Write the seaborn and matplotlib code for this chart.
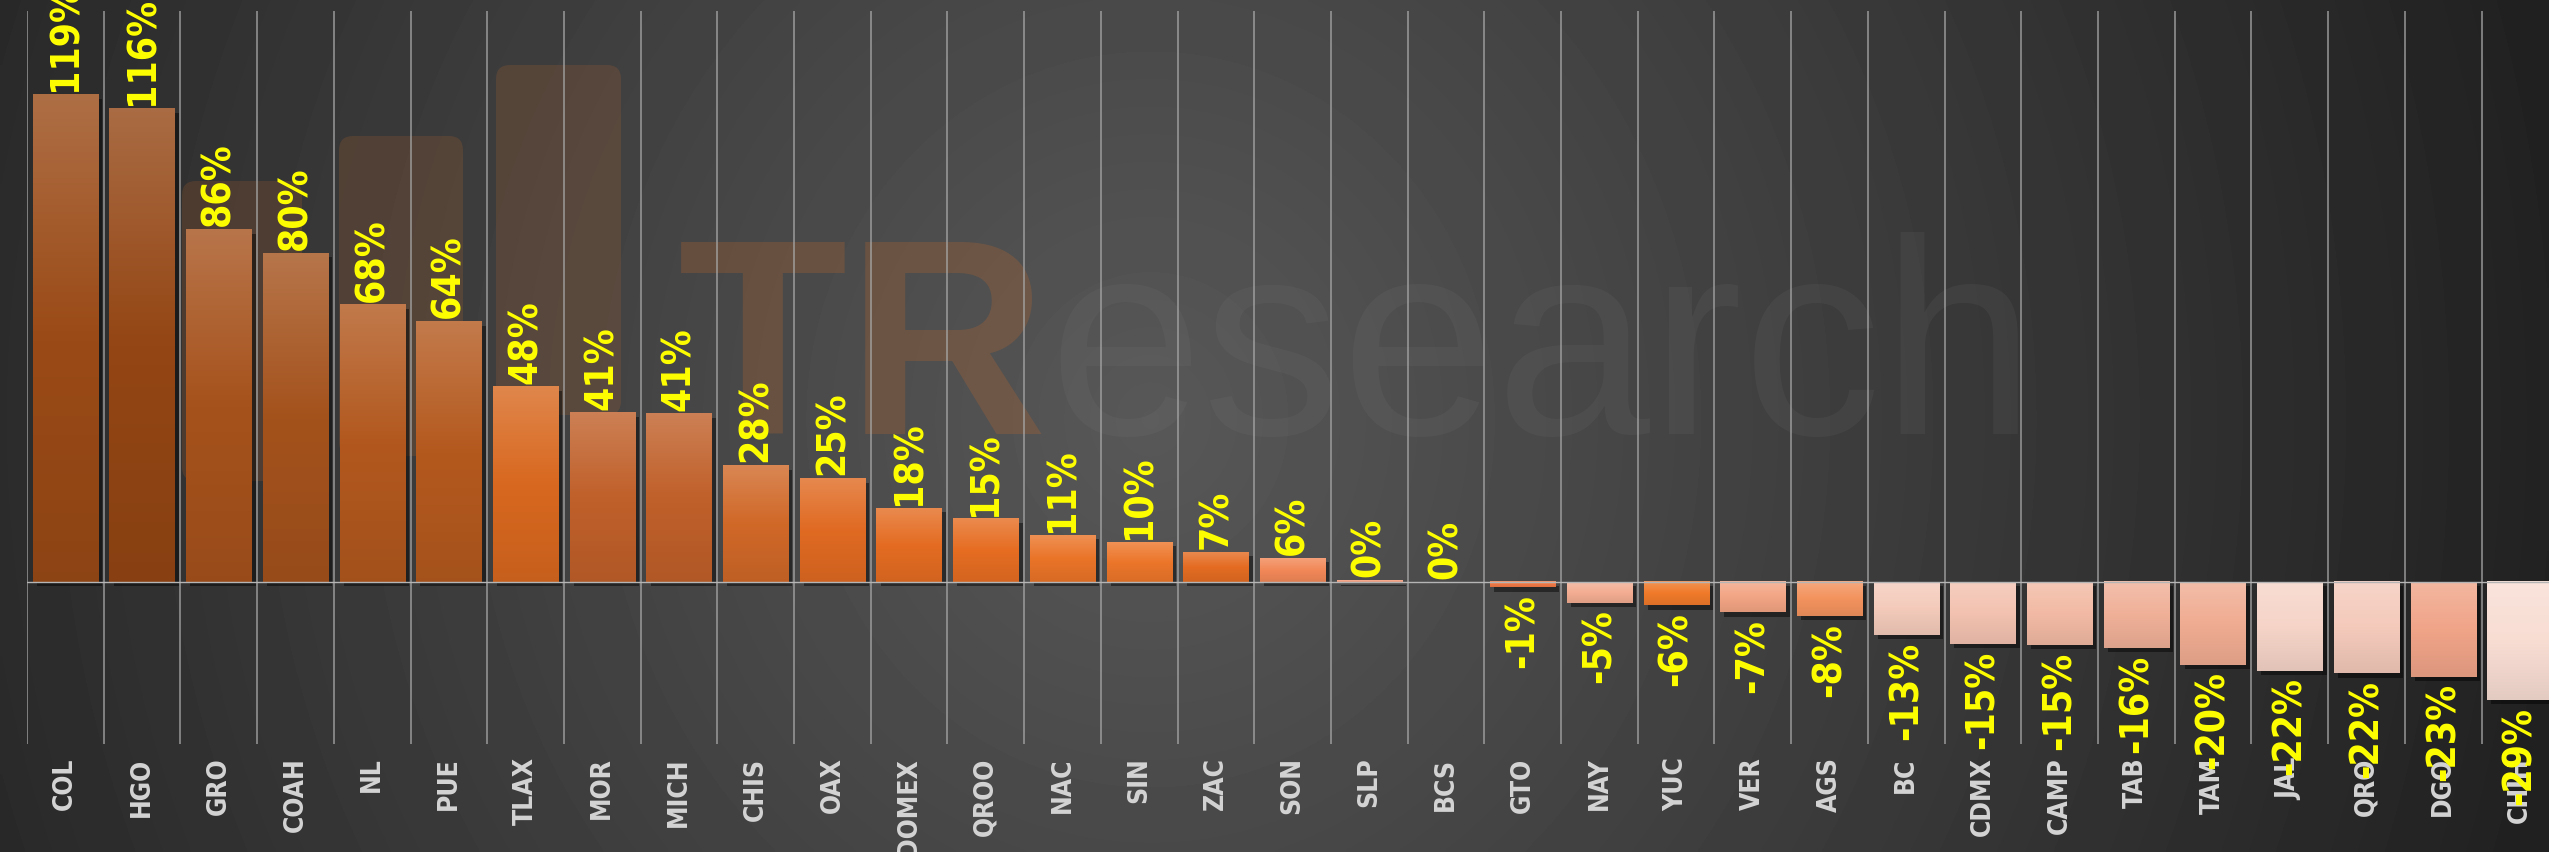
import numpy as np
import matplotlib
matplotlib.use("Agg")
import matplotlib.pyplot as plt
import matplotlib.patheffects as pe
from matplotlib import font_manager as fm
from matplotlib.colors import to_rgb
from matplotlib.patches import FancyBboxPatch
import seaborn as sns

# data (percent change by state)
states = ['COL', 'HGO', 'GRO', 'COAH', 'NL', 'PUE', 'TLAX', 'MOR', 'MICH', 'CHIS', 'OAX',
          'EDOMEX', 'QROO', 'NAC', 'SIN', 'ZAC', 'SON', 'SLP', 'BCS', 'GTO', 'NAY', 'YUC',
          'VER', 'AGS', 'BC', 'CDMX', 'CAMP', 'TAB', 'TAM', 'JAL', 'QRO', 'DGO', 'CHIH']
growth = [118.9, 115.5, 86.0, 80.2, 67.6, 63.6, 47.6, 41.3, 41.0, 28.4, 25.3,
          18.0, 15.4, 11.4, 9.7, 7.3, 5.8, 0.4, 0.0, -1.3, -5.0, -5.7,
          -7.4, -8.3, -12.9, -15.1, -15.3, -16.1, -20.2, -21.6, -22.3, -23.1, -28.8]

# bar fill colours
bar_colors = ['#9a4a16', '#944614', '#a6521c', '#a4521c', '#b2581e', '#b4591e', '#d8681f',
              '#c0602a', '#c0602a', '#d06828', '#e06a22', '#e46c22', '#e66d22', '#ea7428',
              '#ec762a', '#e46c22', '#f28858', '#f5a080', '#f5a080', '#f07844', '#f3ad92',
              '#f07a2a', '#f3a584', '#f3935e', '#f4cbbb', '#f3c2b0', '#f2baa4', '#f0b098',
              '#f0ac92', '#f6d4c8', '#f4cabb', '#f0a488', '#f8ddd3']

sns.set_theme(style="dark")
plt.rcParams['font.family'] = ['DejaVu Sans']

# look for a narrow / condensed bold face, else shrink DejaVu
narrow = None
for f in fm.fontManager.ttflist:
    nm = f.name.lower()
    is_narrow = 'narrow' in nm or 'condensed' in nm or f.stretch in ('condensed', 'semi-condensed', 'extra-condensed')
    if is_narrow and str(f.weight).lower() in ('bold', '700', 'heavy', '800'):
        narrow = f
        break
if narrow is not None:
    val_font = fm.FontProperties(fname=narrow.fname, size=28)
    tick_font = fm.FontProperties(fname=narrow.fname, size=19)
else:
    val_font = fm.FontProperties(family='DejaVu Sans', weight='bold', size=19)
    tick_font = fm.FontProperties(family='DejaVu Sans', weight='bold', size=16)

W, H = 2549, 853
fig = plt.figure(figsize=(W / 100, H / 100), dpi=100)

# dark radial background
bg = fig.add_axes([0, 0, 1, 1], zorder=-10)
yy, xx = np.mgrid[0:H:4, 0:W:4]
d = np.sqrt(((xx - 1150) / 1400) ** 2 + ((yy - 420) / 1500) ** 2)
shade = np.clip(0x58 - (0x58 - 0x22) * d, 0x20, 0x60) / 255
bg.imshow(shade, cmap='gray', vmin=0, vmax=1, extent=[0, W, H, 0],
          aspect='auto', interpolation='bilinear')

# faint logo watermark
for (x, y, w, h) in [(182, 182, 120, 300), (339, 137, 124, 320), (496, 66, 125, 350)]:
    bg.add_patch(FancyBboxPatch((x, y), w, h, boxstyle="round,pad=0,rounding_size=14",
                                facecolor='#c8692a', edgecolor='none', alpha=0.18))
tr = bg.text(678, 434, 'TR', fontsize=200, fontweight='bold', family='Liberation Sans',
             color='#c8692a', alpha=0.25, va='baseline')
fig.canvas.draw()
ext = tr.get_window_extent()
bg.text(ext.x1, 434, 'esearch', fontsize=200, family='Liberation Sans',
        color='#8a8a8a', alpha=0.10, va='baseline')
bg.set_xlim(0, W)
bg.set_ylim(H, 0)
bg.axis('off')

# main chart
ax = fig.add_axes([27 / W, 108 / H, 1 - 27 / W, 733 / H])
ax.patch.set_alpha(0)
sns.barplot(x=states, y=growth, hue=states, palette=bar_colors, width=0.85,
            saturation=1, legend=False, ax=ax, edgecolor='none')

# vertical gradient on each bar + soft shadow
bars = sorted(ax.patches, key=lambda p: p.get_x())
t = np.linspace(0, 1, 64)[:, None]
for patch, c in zip(bars, bar_colors):
    patch.set_path_effects([pe.SimplePatchShadow(offset=(3, -3), alpha=0.45,
                                                 shadow_rgbFace='black'), pe.Normal()])
    x0, w = patch.get_x(), patch.get_width()
    y0, h = patch.get_y(), patch.get_height()
    if h == 0:
        continue
    lo, hi = min(y0, y0 + h), max(y0, y0 + h)
    base = np.array(to_rgb(c))
    top = base + (1 - base) * 0.2
    bot = base * 0.92
    grad = np.where(t < 0.5, top + (base - top) * (t / 0.5), base + (bot - base) * ((t - 0.5) / 0.5))
    ax.imshow(grad[:, None, :], extent=[x0, x0 + w, lo, hi], aspect='auto', origin='upper',
              zorder=patch.get_zorder() + 0.1, interpolation='bilinear')

# value labels
for i, v in enumerate(growth):
    ax.annotate(f"{v:.0f}%", (i, v), xytext=(0, 3 if v >= 0 else -4), textcoords='offset points',
                rotation=90, ha='center', va='bottom' if v >= 0 else 'top',
                color='#ffff00', fontproperties=val_font, zorder=5)

ax.axhline(0, color='#b5b5b5', lw=1, zorder=3)
ax.set_xticks(np.arange(-0.5, 33, 1), minor=True)
ax.grid(which='minor', axis='x', color='#a8a8a8', lw=1.2, alpha=0.8)
ax.grid(which='major', visible=False)
ax.set_axisbelow(True)

ax.set_xticks(range(len(states)))
ax.set_xticklabels(states, rotation=90, va='top', ha='center', color='#d4d4d4',
                   fontproperties=tick_font)
ax.tick_params(axis='x', which='both', length=0, pad=9)
ax.set_yticks([])
ax.set_xlabel('')
ax.set_ylabel('')
for s in ax.spines.values():
    s.set_visible(False)

ax.set_xlim(-0.5, 32.38)
ax.set_ylim(-39.5, 139.3)

fig.savefig('out.png', dpi=100)
